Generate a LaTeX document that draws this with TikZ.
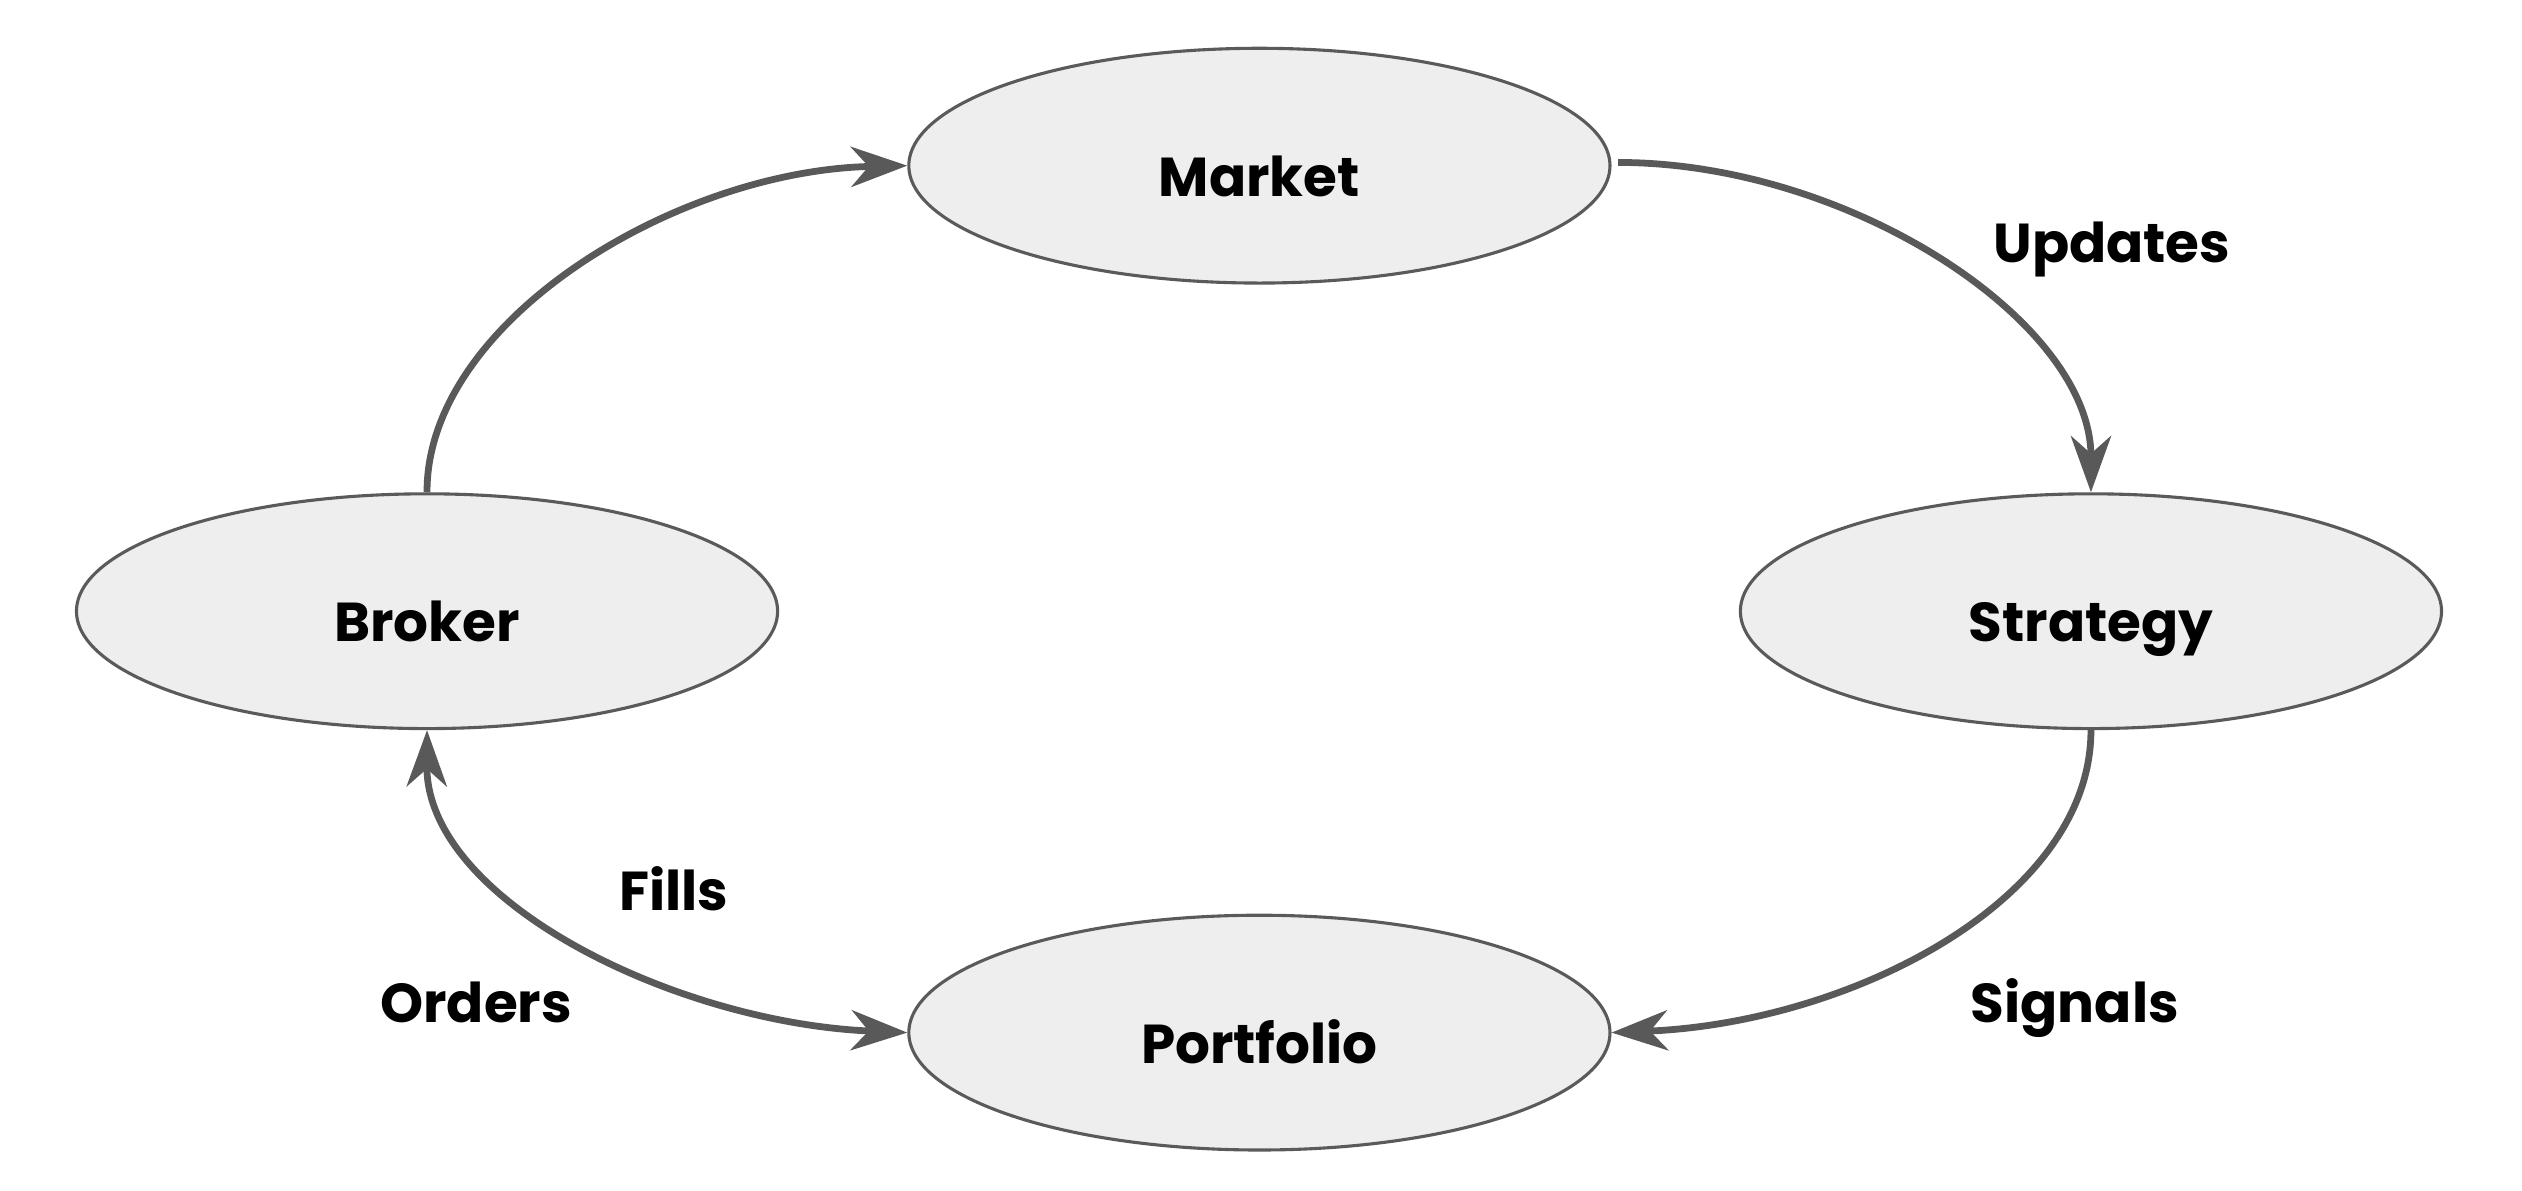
\documentclass[tikz,border=0pt]{standalone}
\usepackage{fontspec}
\setmainfont{Poppins}
\usetikzlibrary{shapes.geometric,arrows.meta}
\definecolor{edgegray}{HTML}{595959}
\definecolor{nodefill}{HTML}{EEEEEE}
\definecolor{nodeline}{HTML}{5A5A5A}
\tikzset{
  ellnode/.style={ellipse, draw=nodeline, fill=nodefill, line width=1.1pt,
    minimum width=8.72cm, minimum height=2.92cm, inner sep=0pt,
    text height=0.76cm, text depth=0pt,
    font=\fontsize{19.4}{24}\selectfont\bfseries},
  lbl/.style={anchor=base, inner sep=0pt, font=\fontsize{19.4}{24}\selectfont\bfseries},
  conn/.style={draw=edgegray, line width=2.4pt,
    -{Stealth[length=0.7cm, width=0.5cm, inset=0.22cm, fill=edgegray]}},
  bconn/.style={draw=edgegray, line width=2.4pt,
    {Stealth[length=0.7cm, width=0.5cm, inset=0.22cm, fill=edgegray]}-{Stealth[length=0.7cm, width=0.5cm, inset=0.22cm, fill=edgegray]}}
}
\begin{document}
\begin{tikzpicture}[x=0.02cm, y=-0.02cm]
\useasboundingbox (0,0) rectangle (1568,740);
\node[ellnode] (market) at (783,103) {Market};
\node[ellnode] (broker) at (265.5,380) {Broker};
\node[ellnode] (strategy) at (1300,380) {Strategy};
\node[ellnode] (portfolio) at (783,642) {Portfolio};
\coordinate (mstart) at (1006,101);
\draw[conn] (broker.north) .. controls (265,200) and (420,106) .. (market.west);
\draw[conn] (mstart) .. controls (1150,101) and (1300,200) .. (strategy.north);
\draw[conn] (strategy.south) .. controls (1300,560) and (1150,636) .. (portfolio.east);
\draw[bconn] (broker.south) .. controls (265,560) and (420,636) .. (portfolio.west);
\node[lbl] (lupdates) at (1313,163) {Updates};
\node[lbl] (lsignals) at (1290,636) {Signals};
\node[lbl] (lfills) at (419,566) {Fills};
\node[lbl] (lorders) at (296,636) {Orders};
\end{tikzpicture}
\end{document}
